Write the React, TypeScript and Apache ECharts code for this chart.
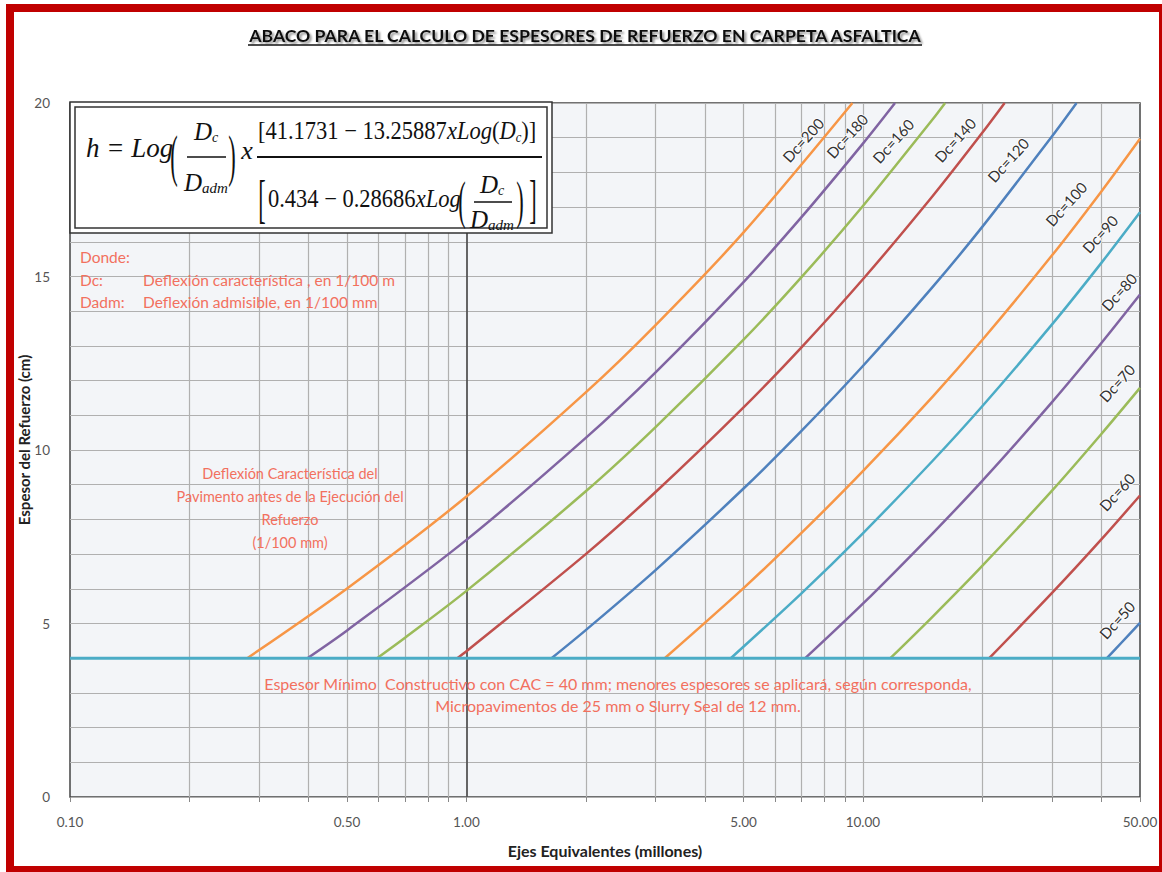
import React, { useEffect, useRef } from "react";
import * as echarts from "echarts";

// ---- data ----
const xLabelValues = [0.1, 0.5, 1, 5, 10, 50];
const xTickValues = [0.1, 0.2, 0.3, 0.4, 0.5, 0.6, 0.7, 0.8, 0.9, 1, 2, 3, 4, 5, 6, 7, 8, 9, 10, 20, 30, 40, 50];
const xGridValues = [0.2, 0.3, 0.4, 0.5, 0.6, 0.7, 0.8, 0.9, 2, 3, 4, 5, 6, 7, 8, 9, 10, 20, 30, 40];
const minThickness = 4;

const dc200 = [[0.28, 4], [0.5, 6.01], [1, 8.66], [2, 11.66], [3, 13.6], [5, 16.27], [9.41, 20]];
const dc180 = [[0.397, 4], [0.5, 4.8], [1, 7.41], [2, 10.35], [3, 12.24], [5, 14.84], [7, 16.71], [10, 18.83], [12.05, 20]];
const dc160 = [[0.595, 4], [0.7, 4.59], [1, 5.94], [2, 8.81], [3, 10.66], [5, 13.18], [7, 14.98], [10, 17.03], [15, 19.53], [16.12, 20]];
const dc140 = [[0.948, 4], [1, 4.2], [2, 7.0], [3, 8.79], [5, 11.23], [7, 12.96], [10, 14.92], [15, 17.32], [20, 19.14], [22.78, 20]];
const dc120 = [[1.639, 4], [2, 4.81], [3, 6.54], [5, 8.89], [7, 10.55], [10, 12.42], [15, 14.7], [20, 16.43], [30, 19.04], [34.59, 20]];
const dc100 = [[3.163, 4], [5, 6.02], [7, 7.61], [10, 9.39], [15, 11.54], [20, 13.17], [30, 15.61], [40, 17.46], [50, 18.97]];
const dc90 = [[4.643, 4], [7, 5.87], [10, 7.6], [15, 9.69], [20, 11.26], [30, 13.62], [40, 15.4], [50, 16.85]];
const dc80 = [[7.155, 4], [10, 5.57], [15, 7.6], [20, 9.11], [30, 11.38], [40, 13.09], [50, 14.48]];
const dc70 = [[11.73, 4], [15, 5.2], [20, 6.66], [30, 8.83], [40, 10.47], [50, 11.79]];
const dc60 = [[20.83, 4], [30, 5.88], [40, 7.43], [50, 8.69]];
const dc50 = [[41.27, 4], [45, 4.46], [50, 5.02]];

const curveNames = ["Dc=200", "Dc=180", "Dc=160", "Dc=140", "Dc=120", "Dc=100", "Dc=90", "Dc=80", "Dc=70", "Dc=60", "Dc=50"];
const curveData = [dc200, dc180, dc160, dc140, dc120, dc100, dc90, dc80, dc70, dc60, dc50];
const curveColors = ["#f79646", "#8064a2", "#9bbb59", "#c0504d", "#4f81bd", "#f79646", "#4bacc6", "#8064a2", "#9bbb59", "#c0504d", "#4f81bd"];

// label layout (pixel positions of the rotated curve labels)
const labelPos = [
  [803, 140], [847, 136], [893, 141], [955, 140], [1008, 160], [1066, 204],
  [1100, 234], [1119, 292], [1117, 383], [1117, 492], [1117, 620],
];

const SANS = "Lato, 'Liberation Sans', sans-serif";
const SERIF = "'Liberation Serif', 'DejaVu Serif', serif";
const RED = "#f2705e";

export default function App() {
  const ref = useRef<HTMLDivElement>(null);
  useEffect(() => {
    if (!ref.current) return;
    const chart = echarts.init(ref.current, null, { renderer: "svg" });

    const series: any[] = curveNames.map((n, i) => ({
      name: n,
      type: "line",
      data: curveData[i],
      smooth: 0.3,
      showSymbol: false,
      symbol: "none",
      lineStyle: { color: curveColors[i], width: 2.5 },
      z: 5,
    }));
    series.push({
      name: "min",
      type: "line",
      data: [[0.1, minThickness], [50, minThickness]],
      symbol: "none",
      lineStyle: { color: "#4bacc6", width: 3 },
      z: 6,
    });
    series.push({
      name: "grid",
      type: "line",
      data: [],
      z: 1,
      markLine: {
        silent: true,
        symbol: "none",
        label: { show: false },
        lineStyle: { color: "#b0b0b0", width: 1.2, type: "solid" },
        data: xGridValues.map((v) => ({ xAxis: v })),
      },
    });
    series.push({
      name: "axis1",
      type: "line",
      data: [],
      z: 2,
      markLine: {
        silent: true,
        symbol: "none",
        label: { show: false },
        lineStyle: { color: "#555", width: 1.8, type: "solid" },
        data: [{ xAxis: 1 }],
      },
    });

    const txt = (text: string, x: number, y: number, extra: any = {}) => ({
      type: "text",
      x,
      y,
      z: 25,
      ...(extra.el || {}),
      style: { text, fill: "#111", ...(extra.style || {}) },
    });
    const mathRich = {
      n: { fontFamily: SERIF, fontSize: 25, fill: "#111" },
      i: { fontFamily: SERIF, fontStyle: "italic", fontSize: 25, fill: "#111" },
      s: { fontFamily: SERIF, fontStyle: "italic", fontSize: 14, fill: "#111", verticalAlign: "bottom", padding: [12, 0, 0, 0] },
      sa: { fontFamily: SERIF, fontStyle: "italic", fontSize: 15, fill: "#111", verticalAlign: "bottom", padding: [12, 0, 0, 0] },
    };
    const tall = (ch: string, x: number, y: number, sy: number) =>
      txt(ch, x, y, {
        el: { scaleY: sy, scaleX: 0.8 },
        style: { fontFamily: SERIF, fontSize: 28, align: "center", verticalAlign: "middle" },
      });
    const hline = (x1: number, x2: number, y: number, w: number) => ({
      type: "line", z: 25, shape: { x1, y1: y, x2, y2: y }, style: { stroke: "#111", lineWidth: w },
    });

    const noteStyle = { font: `15.5px ${SANS}`, fill: RED, verticalAlign: "middle" };

    const graphic: any[] = [
      // red frame
      { type: "rect", z: 100, shape: { x: 10, y: 8, width: 1153, height: 862 }, style: { fill: "none", stroke: "#c00000", lineWidth: 8 } },
      // title
      txt("ABACO PARA EL CALCULO DE ESPESORES DE REFUERZO EN CARPETA ASFALTICA", 585, 35, {
        style: {
          font: `bold 17.6px ${SANS}`, align: "center", verticalAlign: "middle", fill: "#111",
          textShadowColor: "rgba(0,0,0,0.45)", textShadowOffsetX: 2, textShadowOffsetY: 2, textShadowBlur: 2,
        },
      }),
      { type: "line", z: 25, shape: { x1: 248, y1: 45, x2: 922, y2: 45 }, style: { stroke: "#111", lineWidth: 1.5 } },
      // y axis title
      txt("Espesor del Refuerzo (cm)", 24, 440, {
        el: { rotation: Math.PI / 2 },
        style: { font: `bold 15px ${SANS}`, fill: "#222", align: "center", verticalAlign: "middle" },
      }),
      // formula box
      { type: "rect", z: 20, shape: { x: 70, y: 102, width: 482, height: 131 }, style: { fill: "#fff", stroke: "#333", lineWidth: 1.5 } },
      { type: "rect", z: 21, shape: { x: 75, y: 107, width: 472, height: 121 }, style: { fill: "none", stroke: "#333", lineWidth: 1.5 } },
      txt("h = Log", 86, 148, { style: { fontFamily: SERIF, fontStyle: "italic", fontSize: 27, verticalAlign: "middle" } }),
      tall("(", 174, 156, 2.0),
      txt("{i|D}{s|c}", 206, 131, { style: { rich: mathRich, align: "center", verticalAlign: "middle" } }),
      hline(187, 226, 157, 1.5),
      txt("{i|D}{sa|adm}", 206, 182, { style: { rich: mathRich, align: "center", verticalAlign: "middle" } }),
      tall(")", 232, 156, 2.0),
      txt("x", 247, 150, { style: { fontFamily: SERIF, fontStyle: "italic", fontSize: 26, align: "center", verticalAlign: "middle" } }),
      txt("{n|[41.1731 − 13.25887}{i|xLog}{n|(}{i|D}{s|c}{n|)]}", 258, 131, {
        el: { scaleX: 0.9 },
        style: { rich: mathRich, verticalAlign: "middle" },
      }),
      hline(257, 542, 157, 2),
      tall("[", 262, 199, 1.9),
      txt("{n|0.434 − 0.28686}{i|xLog}", 268, 199, { el: { scaleX: 0.9 }, style: { rich: mathRich, verticalAlign: "middle" } }),
      tall("(", 462, 200, 1.9),
      txt("{i|D}{s|c}", 492, 184, { style: { rich: mathRich, align: "center", verticalAlign: "middle" } }),
      hline(474, 512, 202, 1.5),
      txt("{i|D}{sa|adm}", 492, 219, { style: { rich: mathRich, align: "center", verticalAlign: "middle" } }),
      tall(")", 520, 200, 1.9),
      tall("]", 533, 199, 1.9),
      // notes
      txt("Donde:", 80, 257, { style: noteStyle }),
      txt("Dc:", 80, 280, { style: noteStyle }),
      txt("Deflexión característica , en 1/100 m", 143, 280, { style: noteStyle }),
      txt("Dadm:", 80, 302, { style: noteStyle }),
      txt("Deflexión admisible, en 1/100 mm", 143, 302, { style: noteStyle }),
      txt("Deflexión Característica del\nPavimento antes de la Ejecución del\nRefuerzo\n(1/100 mm)", 290, 508, {
        style: { font: `14.5px ${SANS}`, fill: RED, align: "center", verticalAlign: "middle", lineHeight: 23 },
      }),
      txt("Espesor Mínimo  Constructivo con CAC = 40 mm; menores espesores se aplicará, según corresponda,\nMicropavimentos de 25 mm o Slurry Seal de 12 mm.", 618, 694, {
        style: { font: `16px ${SANS}`, fill: RED, align: "center", verticalAlign: "middle", lineHeight: 22 },
      }),
      // curve labels
      ...curveNames.map((n, i) =>
        txt(n, labelPos[i][0], labelPos[i][1], {
          el: { rotation: (48 * Math.PI) / 180, z: 30 },
          style: { font: `15px ${SANS}`, fill: "#333", align: "center", verticalAlign: "middle", stroke: "rgba(255,255,255,0.8)", lineWidth: 2 },
        })
      ),
    ];

    chart.setOption({
      animation: false,
      backgroundColor: "#fff",
      grid: {
        left: 70, right: 22, top: 103, bottom: 75,
        show: true, backgroundColor: "#f3f5f8", borderColor: "#444", borderWidth: 1.5,
      },
      xAxis: {
        type: "log",
        logBase: 10,
        min: 0.1,
        max: 50,
        name: "Ejes Equivalentes (millones)",
        nameLocation: "middle",
        nameGap: 45,
        nameTextStyle: { fontFamily: SANS, fontWeight: "bold", fontSize: 16, color: "#222" },
        axisLine: { show: false },
        axisTick: { show: true, customValues: xTickValues, length: 5, lineStyle: { color: "#888" } },
        axisLabel: {
          customValues: xLabelValues,
          formatter: (v: number) => v.toFixed(2),
          fontFamily: SANS, fontSize: 13.5, color: "#555", margin: 18,
        },
        splitLine: { show: false },
        minorSplitLine: { show: false },
      },
      yAxis: {
        type: "value",
        min: 0,
        max: 20,
        interval: 1,
        axisLine: { show: false },
        axisTick: { show: false },
        axisLabel: {
          formatter: (v: number) => (v % 5 === 0 ? String(v) : ""),
          fontFamily: SANS, fontSize: 13.5, color: "#555", margin: 20,
        },
        splitLine: { show: true, lineStyle: { color: "#b0b0b0", width: 1.2 } },
      },
      series,
      graphic,
    });
    return () => chart.dispose();
  }, []);
  return <div ref={ref} style={{ position: "absolute", left: 0, top: 0, width: 1162, height: 872, background: "#fff" }} />;
}
